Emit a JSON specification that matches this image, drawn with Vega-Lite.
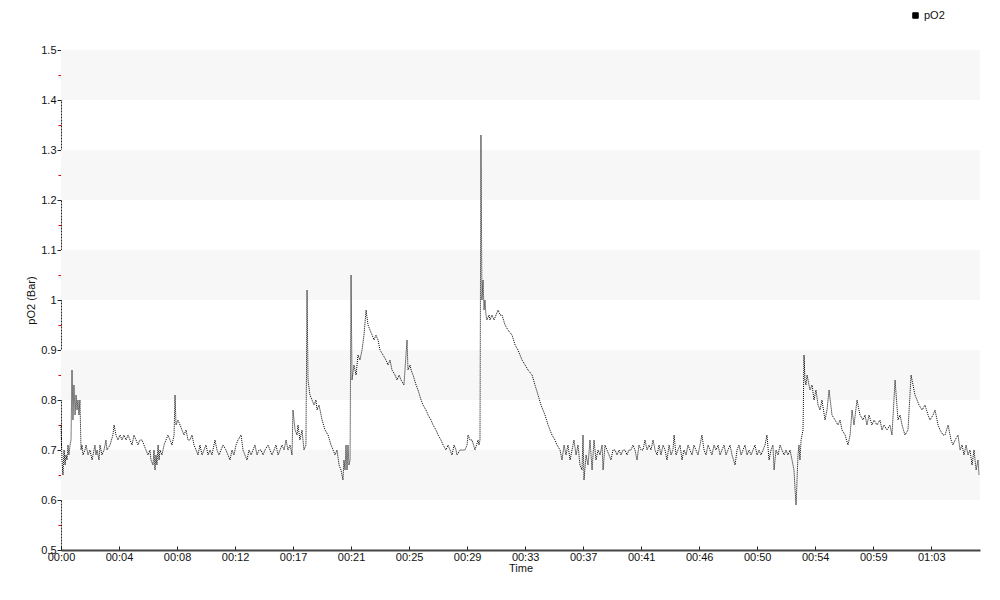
{
  "$schema": "https://vega.github.io/schema/vega-lite/v6.json",
  "width": 919,
  "height": 500,
  "autosize": {"type": "none"},
  "padding": {"left": 61, "top": 50, "right": 20, "bottom": 50},
  "background": "white",
  "config": {
    "view": {"stroke": null},
    "font": "Liberation Sans",
    "axis": {"labelFont": "Liberation Sans", "titleFont": "Liberation Sans", "labelFontSize": 11, "titleFontSize": 11, "titleFontWeight": "normal", "labelColor": "#111", "titleColor": "#111", "grid": false}
  },
  "datasets": {
    "bands": [{"lo": 1.4, "hi": 1.5}, {"lo": 1.2, "hi": 1.3}, {"lo": 1.0, "hi": 1.1}, {"lo": 0.8, "hi": 0.9}, {"lo": 0.6, "hi": 0.7}],
    "po2": [
{"t":0,"v":0.75},{"t":0.07,"v":0.68},{"t":0.14,"v":0.65},{"t":0.22,"v":0.70},{"t":0.29,"v":0.67},{"t":0.36,"v":0.69},{"t":0.43,"v":0.68},{"t":0.50,"v":0.71},{"t":0.57,"v":0.69},{"t":0.65,"v":0.71},{"t":0.72,"v":0.72},{"t":0.79,"v":0.86},{"t":0.86,"v":0.76},{"t":0.93,"v":0.83},{"t":1.01,"v":0.77},{"t":1.08,"v":0.81},{"t":1.15,"v":0.78},{"t":1.22,"v":0.80},{"t":1.29,"v":0.77},{"t":1.36,"v":0.80},{"t":1.44,"v":0.70},{"t":1.51,"v":0.71},{"t":1.58,"v":0.69},{"t":1.72,"v":0.70},{"t":1.80,"v":0.71},{"t":1.94,"v":0.69},{"t":2.08,"v":0.70},{"t":2.23,"v":0.68},{"t":2.37,"v":0.70},{"t":2.44,"v":0.71},{"t":2.51,"v":0.69},{"t":2.59,"v":0.70},{"t":2.73,"v":0.68},{"t":2.80,"v":0.71},{"t":2.94,"v":0.69},{"t":3.09,"v":0.70},{"t":3.23,"v":0.72},{"t":3.30,"v":0.70},{"t":3.52,"v":0.71},{"t":3.73,"v":0.73},{"t":3.81,"v":0.75},{"t":3.95,"v":0.73},{"t":4.09,"v":0.72},{"t":4.24,"v":0.73},{"t":4.38,"v":0.72},{"t":4.52,"v":0.73},{"t":4.67,"v":0.72},{"t":4.81,"v":0.73},{"t":4.96,"v":0.72},{"t":5.10,"v":0.71},{"t":5.24,"v":0.73},{"t":5.39,"v":0.72},{"t":5.53,"v":0.71},{"t":5.67,"v":0.72},{"t":5.82,"v":0.72},{"t":5.96,"v":0.71},{"t":6.10,"v":0.70},{"t":6.25,"v":0.69},{"t":6.39,"v":0.70},{"t":6.46,"v":0.68},{"t":6.61,"v":0.67},{"t":6.68,"v":0.70},{"t":6.75,"v":0.66},{"t":6.82,"v":0.69},{"t":6.89,"v":0.67},{"t":6.97,"v":0.71},{"t":7.04,"v":0.68},{"t":7.11,"v":0.70},{"t":7.25,"v":0.69},{"t":7.40,"v":0.71},{"t":7.54,"v":0.72},{"t":7.68,"v":0.73},{"t":7.83,"v":0.72},{"t":7.97,"v":0.71},{"t":8.12,"v":0.73},{"t":8.19,"v":0.81},{"t":8.26,"v":0.75},{"t":8.40,"v":0.76},{"t":8.55,"v":0.75},{"t":8.69,"v":0.74},{"t":8.83,"v":0.73},{"t":8.98,"v":0.74},{"t":9.12,"v":0.72},{"t":9.26,"v":0.72},{"t":9.41,"v":0.73},{"t":9.55,"v":0.71},{"t":9.70,"v":0.70},{"t":9.84,"v":0.69},{"t":9.98,"v":0.71},{"t":10.13,"v":0.69},{"t":10.27,"v":0.70},{"t":10.41,"v":0.71},{"t":10.56,"v":0.69},{"t":10.70,"v":0.70},{"t":10.84,"v":0.69},{"t":11.06,"v":0.72},{"t":11.20,"v":0.70},{"t":11.35,"v":0.69},{"t":11.49,"v":0.70},{"t":11.64,"v":0.71},{"t":11.85,"v":0.70},{"t":11.99,"v":0.69},{"t":12.14,"v":0.68},{"t":12.28,"v":0.70},{"t":12.42,"v":0.69},{"t":12.57,"v":0.71},{"t":12.71,"v":0.72},{"t":12.93,"v":0.73},{"t":13.07,"v":0.70},{"t":13.21,"v":0.69},{"t":13.36,"v":0.68},{"t":13.50,"v":0.70},{"t":13.65,"v":0.69},{"t":13.79,"v":0.70},{"t":13.93,"v":0.71},{"t":14.08,"v":0.69},{"t":14.22,"v":0.70},{"t":14.36,"v":0.70},{"t":14.51,"v":0.69},{"t":14.65,"v":0.70},{"t":14.87,"v":0.71},{"t":15.01,"v":0.70},{"t":15.15,"v":0.69},{"t":15.30,"v":0.70},{"t":15.44,"v":0.71},{"t":15.59,"v":0.69},{"t":15.73,"v":0.70},{"t":15.87,"v":0.71},{"t":16.02,"v":0.70},{"t":16.16,"v":0.72},{"t":16.30,"v":0.70},{"t":16.45,"v":0.71},{"t":16.59,"v":0.69},{"t":16.66,"v":0.78},{"t":16.81,"v":0.74},{"t":16.95,"v":0.73},{"t":17.02,"v":0.75},{"t":17.16,"v":0.72},{"t":17.31,"v":0.74},{"t":17.45,"v":0.70},{"t":17.59,"v":0.71},{"t":17.67,"v":1.02},{"t":17.74,"v":0.84},{"t":17.88,"v":0.81},{"t":18.03,"v":0.80},{"t":18.17,"v":0.79},{"t":18.31,"v":0.80},{"t":18.39,"v":0.78},{"t":18.53,"v":0.79},{"t":18.75,"v":0.76},{"t":18.96,"v":0.74},{"t":19.18,"v":0.73},{"t":19.39,"v":0.71},{"t":19.54,"v":0.70},{"t":19.68,"v":0.69},{"t":19.82,"v":0.70},{"t":19.97,"v":0.67},{"t":20.11,"v":0.66},{"t":20.25,"v":0.64},{"t":20.32,"v":0.68},{"t":20.40,"v":0.66},{"t":20.47,"v":0.71},{"t":20.54,"v":0.66},{"t":20.61,"v":0.71},{"t":20.68,"v":0.67},{"t":20.76,"v":0.68},{"t":20.83,"v":1.05},{"t":20.90,"v":0.84},{"t":21.04,"v":0.87},{"t":21.19,"v":0.85},{"t":21.33,"v":0.89},{"t":21.47,"v":0.88},{"t":21.62,"v":0.90},{"t":21.76,"v":0.93},{"t":21.91,"v":0.98},{"t":22.05,"v":0.95},{"t":22.19,"v":0.94},{"t":22.34,"v":0.93},{"t":22.48,"v":0.92},{"t":22.62,"v":0.93},{"t":22.77,"v":0.92},{"t":22.91,"v":0.90},{"t":23.13,"v":0.89},{"t":23.34,"v":0.88},{"t":23.48,"v":0.87},{"t":23.63,"v":0.88},{"t":23.77,"v":0.86},{"t":23.99,"v":0.85},{"t":24.13,"v":0.84},{"t":24.28,"v":0.85},{"t":24.42,"v":0.84},{"t":24.63,"v":0.83},{"t":24.85,"v":0.92},{"t":24.92,"v":0.86},{"t":25.07,"v":0.87},{"t":25.14,"v":0.86},{"t":25.28,"v":0.85},{"t":25.50,"v":0.83},{"t":25.64,"v":0.82},{"t":25.86,"v":0.80},{"t":26.00,"v":0.79},{"t":26.21,"v":0.78},{"t":26.36,"v":0.77},{"t":26.57,"v":0.76},{"t":26.72,"v":0.75},{"t":26.93,"v":0.74},{"t":27.08,"v":0.73},{"t":27.29,"v":0.72},{"t":27.44,"v":0.71},{"t":27.65,"v":0.70},{"t":27.79,"v":0.71},{"t":27.94,"v":0.70},{"t":28.08,"v":0.69},{"t":28.23,"v":0.71},{"t":28.37,"v":0.70},{"t":28.44,"v":0.69},{"t":28.66,"v":0.70},{"t":28.80,"v":0.70},{"t":29.01,"v":0.70},{"t":29.16,"v":0.71},{"t":29.23,"v":0.73},{"t":29.37,"v":0.72},{"t":29.52,"v":0.72},{"t":29.73,"v":0.70},{"t":29.95,"v":0.72},{"t":30.02,"v":0.71},{"t":30.09,"v":0.72},{"t":30.16,"v":1.33},{"t":30.23,"v":1.00},{"t":30.31,"v":1.04},{"t":30.38,"v":0.98},{"t":30.45,"v":1.00},{"t":30.52,"v":0.97},{"t":30.59,"v":0.96},{"t":30.74,"v":0.97},{"t":30.81,"v":0.96},{"t":30.95,"v":0.97},{"t":31.10,"v":0.96},{"t":31.24,"v":0.97},{"t":31.39,"v":0.98},{"t":31.53,"v":0.97},{"t":31.67,"v":0.97},{"t":31.89,"v":0.95},{"t":32.10,"v":0.94},{"t":32.39,"v":0.93},{"t":32.61,"v":0.91},{"t":32.82,"v":0.90},{"t":33.11,"v":0.88},{"t":33.33,"v":0.87},{"t":33.54,"v":0.86},{"t":33.83,"v":0.85},{"t":34.04,"v":0.83},{"t":34.26,"v":0.81},{"t":34.47,"v":0.79},{"t":34.76,"v":0.77},{"t":34.98,"v":0.75},{"t":35.26,"v":0.73},{"t":35.48,"v":0.72},{"t":35.62,"v":0.71},{"t":35.84,"v":0.70},{"t":35.98,"v":0.68},{"t":36.13,"v":0.71},{"t":36.27,"v":0.69},{"t":36.41,"v":0.71},{"t":36.56,"v":0.68},{"t":36.70,"v":0.70},{"t":36.84,"v":0.72},{"t":36.99,"v":0.69},{"t":37.13,"v":0.71},{"t":37.27,"v":0.67},{"t":37.42,"v":0.66},{"t":37.49,"v":0.73},{"t":37.56,"v":0.64},{"t":37.71,"v":0.69},{"t":37.85,"v":0.67},{"t":37.99,"v":0.72},{"t":38.14,"v":0.66},{"t":38.28,"v":0.72},{"t":38.42,"v":0.68},{"t":38.57,"v":0.70},{"t":38.71,"v":0.69},{"t":38.86,"v":0.71},{"t":38.93,"v":0.66},{"t":39.07,"v":0.71},{"t":39.21,"v":0.70},{"t":39.36,"v":0.69},{"t":39.50,"v":0.68},{"t":39.64,"v":0.70},{"t":39.79,"v":0.70},{"t":39.93,"v":0.69},{"t":40.08,"v":0.70},{"t":40.22,"v":0.69},{"t":40.36,"v":0.70},{"t":40.51,"v":0.70},{"t":40.65,"v":0.69},{"t":40.79,"v":0.70},{"t":40.94,"v":0.70},{"t":41.08,"v":0.71},{"t":41.22,"v":0.70},{"t":41.37,"v":0.68},{"t":41.51,"v":0.71},{"t":41.66,"v":0.70},{"t":41.80,"v":0.70},{"t":41.94,"v":0.72},{"t":42.09,"v":0.70},{"t":42.23,"v":0.71},{"t":42.37,"v":0.70},{"t":42.52,"v":0.72},{"t":42.66,"v":0.70},{"t":42.81,"v":0.69},{"t":42.95,"v":0.71},{"t":43.09,"v":0.69},{"t":43.24,"v":0.71},{"t":43.38,"v":0.70},{"t":43.52,"v":0.68},{"t":43.67,"v":0.71},{"t":43.81,"v":0.69},{"t":43.95,"v":0.70},{"t":44.03,"v":0.73},{"t":44.17,"v":0.69},{"t":44.31,"v":0.70},{"t":44.46,"v":0.71},{"t":44.60,"v":0.68},{"t":44.74,"v":0.70},{"t":44.89,"v":0.69},{"t":45.03,"v":0.71},{"t":45.17,"v":0.70},{"t":45.32,"v":0.69},{"t":45.46,"v":0.71},{"t":45.60,"v":0.70},{"t":45.75,"v":0.69},{"t":45.89,"v":0.71},{"t":46.03,"v":0.73},{"t":46.18,"v":0.70},{"t":46.32,"v":0.69},{"t":46.47,"v":0.71},{"t":46.61,"v":0.70},{"t":46.75,"v":0.69},{"t":46.90,"v":0.71},{"t":47.04,"v":0.70},{"t":47.19,"v":0.71},{"t":47.33,"v":0.69},{"t":47.47,"v":0.70},{"t":47.62,"v":0.71},{"t":47.76,"v":0.69},{"t":47.90,"v":0.70},{"t":48.05,"v":0.71},{"t":48.19,"v":0.69},{"t":48.41,"v":0.67},{"t":48.55,"v":0.70},{"t":48.69,"v":0.71},{"t":48.84,"v":0.69},{"t":48.98,"v":0.70},{"t":49.12,"v":0.71},{"t":49.27,"v":0.69},{"t":49.41,"v":0.70},{"t":49.56,"v":0.69},{"t":49.70,"v":0.70},{"t":49.84,"v":0.71},{"t":49.99,"v":0.69},{"t":50.13,"v":0.70},{"t":50.27,"v":0.69},{"t":50.42,"v":0.70},{"t":50.56,"v":0.71},{"t":50.70,"v":0.73},{"t":50.85,"v":0.68},{"t":50.99,"v":0.70},{"t":51.13,"v":0.71},{"t":51.21,"v":0.66},{"t":51.35,"v":0.70},{"t":51.50,"v":0.69},{"t":51.64,"v":0.71},{"t":51.78,"v":0.70},{"t":51.93,"v":0.69},{"t":52.07,"v":0.70},{"t":52.21,"v":0.69},{"t":52.36,"v":0.70},{"t":52.50,"v":0.68},{"t":52.64,"v":0.66},{"t":52.72,"v":0.62},{"t":52.79,"v":0.59},{"t":52.86,"v":0.64},{"t":52.93,"v":0.69},{"t":53.00,"v":0.71},{"t":53.07,"v":0.68},{"t":53.15,"v":0.72},{"t":53.29,"v":0.74},{"t":53.36,"v":0.89},{"t":53.43,"v":0.84},{"t":53.50,"v":0.83},{"t":53.58,"v":0.85},{"t":53.65,"v":0.84},{"t":53.79,"v":0.82},{"t":53.94,"v":0.83},{"t":54.08,"v":0.80},{"t":54.22,"v":0.82},{"t":54.37,"v":0.79},{"t":54.51,"v":0.78},{"t":54.65,"v":0.80},{"t":54.87,"v":0.76},{"t":55.01,"v":0.78},{"t":55.16,"v":0.82},{"t":55.37,"v":0.77},{"t":55.59,"v":0.76},{"t":55.80,"v":0.75},{"t":55.95,"v":0.76},{"t":56.09,"v":0.74},{"t":56.31,"v":0.73},{"t":56.52,"v":0.71},{"t":56.67,"v":0.73},{"t":56.81,"v":0.78},{"t":56.95,"v":0.75},{"t":57.17,"v":0.80},{"t":57.38,"v":0.77},{"t":57.60,"v":0.76},{"t":57.74,"v":0.77},{"t":57.88,"v":0.75},{"t":58.03,"v":0.77},{"t":58.24,"v":0.75},{"t":58.39,"v":0.76},{"t":58.60,"v":0.75},{"t":58.82,"v":0.76},{"t":58.96,"v":0.74},{"t":59.10,"v":0.75},{"t":59.32,"v":0.74},{"t":59.53,"v":0.75},{"t":59.68,"v":0.73},{"t":59.90,"v":0.84},{"t":60.11,"v":0.76},{"t":60.26,"v":0.77},{"t":60.40,"v":0.75},{"t":60.61,"v":0.73},{"t":60.83,"v":0.74},{"t":61.05,"v":0.85},{"t":61.19,"v":0.83},{"t":61.33,"v":0.81},{"t":61.48,"v":0.80},{"t":61.62,"v":0.79},{"t":61.84,"v":0.78},{"t":62.05,"v":0.79},{"t":62.27,"v":0.77},{"t":62.41,"v":0.76},{"t":62.63,"v":0.77},{"t":62.77,"v":0.78},{"t":62.99,"v":0.75},{"t":63.13,"v":0.74},{"t":63.35,"v":0.73},{"t":63.49,"v":0.73},{"t":63.71,"v":0.75},{"t":63.92,"v":0.72},{"t":64.06,"v":0.71},{"t":64.21,"v":0.72},{"t":64.42,"v":0.73},{"t":64.57,"v":0.70},{"t":64.71,"v":0.71},{"t":64.85,"v":0.69},{"t":65.00,"v":0.71},{"t":65.14,"v":0.69},{"t":65.28,"v":0.70},{"t":65.43,"v":0.67},{"t":65.57,"v":0.70},{"t":65.72,"v":0.66},{"t":65.86,"v":0.68},{"t":65.93,"v":0.65}
    ]
  },
  "layer": [
    {
      "data": {"name": "bands"},
      "mark": {"type": "rect", "color": "#f7f7f7"},
      "encoding": {
        "y": {"field": "lo", "type": "quantitative", "scale": {"domain": [0.5, 1.5], "nice": false, "zero": false},
          "axis": {"orient": "left", "values": [0.55, 0.65, 0.75, 0.85, 0.95, 1.05, 1.15, 1.25, 1.35, 1.45], "labels": false, "domain": false, "ticks": true, "tickColor": "#e00000", "tickSize": 3, "tickWidth": 1, "title": null}},
        "y2": {"field": "hi"}
      }
    },
    {
      "data": {"name": "po2"},
      "mark": {"type": "line", "strokeWidth": 1, "strokeDash": [1, 1], "interpolate": "linear"},
      "encoding": {
        "x": {"field": "t", "type": "quantitative", "scale": {"domain": [0, 66], "nice": false, "zero": false},
          "axis": {"title": "Time", "values": [0, 4.1667, 8.3333, 12.5, 16.6667, 20.8333, 25, 29.1667, 33.3333, 37.5, 41.6667, 45.8333, 50, 54.1667, 58.3333, 62.5],
            "labelExpr": "['00:00','00:04','00:08','00:12','00:17','00:21','00:25','00:29','00:33','00:37','00:41','00:46','00:50','00:54','00:59','01:03'][round(datum.value/4.16667)]",
            "domainColor": "#444", "domainWidth": 2, "tickColor": "#222", "tickSize": -4, "labelPadding": 5, "titlePadding": 0, "labelFlush": false, "labelOverlap": false}},
        "y": {"field": "v", "type": "quantitative", "scale": {"domain": [0.5, 1.5], "nice": false, "zero": false},
          "axis": {"orient": "left", "title": "pO2 (Bar)", "values": [0.5, 0.6, 0.7, 0.8, 0.9, 1.0, 1.1, 1.2, 1.3, 1.4, 1.5], "format": ".1~f",
            "domainColor": "#222", "domainDash": [2, 1], "tickColor": "#222", "tickSize": 4, "labelPadding": 1, "titlePadding": 4, "labelFlush": false, "labelOverlap": false}},
        "color": {"datum": "pO2", "type": "nominal", "scale": {"range": ["#000000"]},
          "legend": {"title": null, "orient": "none", "legendX": 849, "legendY": -40, "symbolType": "square", "symbolSize": 30, "symbolFillColor": "#000000", "symbolStrokeColor": "#000000", "symbolStrokeWidth": 1, "symbolDash": [], "labelFont": "Liberation Sans", "labelFontSize": 11, "labelColor": "#111", "labelOffset": 3}}
      }
    }
  ],
  "resolve": {"axis": {"y": "independent"}}
}
